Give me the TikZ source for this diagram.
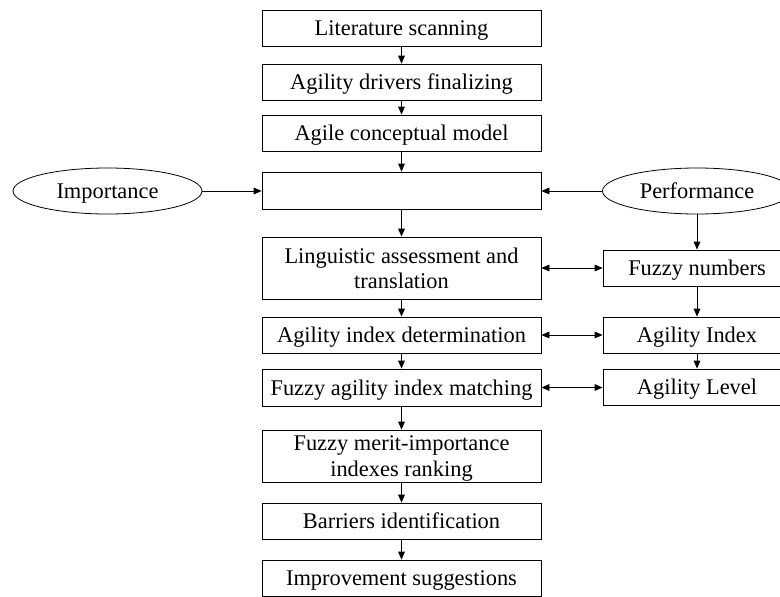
\documentclass[tikz,border=0pt]{standalone}
\usepackage{fontspec}
\setmainfont{Liberation Serif}
\usetikzlibrary{arrows.meta,shapes.geometric}
\begin{document}
\begin{tikzpicture}[x=0.75pt,y=-0.75pt,
  every node/.style={font=\fontsize{16.8}{19}\selectfont,text depth=0pt},
  mainbox/.style={draw,line width=0.6pt,rectangle,inner sep=0pt,align=center,
    minimum width=279*0.75pt},
  sidebox/.style={draw,line width=0.6pt,rectangle,inner sep=0pt,align=center,
    minimum width=188*0.75pt,minimum height=36*0.75pt},
  oval/.style={draw,line width=0.6pt,ellipse,inner sep=0pt,
    minimum width=189*0.75pt,minimum height=46*0.75pt},
  flow/.style={line width=0.6pt,-{Triangle[length=6pt,width=5pt]}},
  both/.style={line width=0.6pt,{Triangle[length=6pt,width=5pt]}-{Triangle[length=6pt,width=5pt]}}]
\useasboundingbox (0,0) rectangle (780,596);
\clip (0,0) rectangle (780,596);

% main column
\node[mainbox,minimum height=36*0.75pt] (lit) at (401.5,28) {Literature scanning};
\node[mainbox,minimum height=36*0.75pt] (drv) at (401.5,82) {Agility drivers finalizing};
\node[mainbox,minimum height=36*0.75pt] (acm) at (401.5,133) {Agile conceptual model};
\node[mainbox,minimum height=37*0.75pt] (blank) at (401.5,190.5) {};
\node[mainbox,minimum height=62*0.75pt] (ling) at (401.5,268) {Linguistic assessment and\\translation};
\node[mainbox,minimum height=36*0.75pt] (aid) at (401.5,335) {Agility index determination};
\node[mainbox,minimum height=37*0.75pt] (fam) at (401.5,387.5) {Fuzzy agility index matching};
\node[mainbox,minimum height=52*0.75pt] (fmi) at (401.5,456) {Fuzzy merit-importance\\indexes ranking};
\node[mainbox,minimum height=36*0.75pt] (bar) at (401.5,521) {Barriers identification};
\node[mainbox,minimum height=36*0.75pt] (imp) at (401.5,578) {Improvement suggestions};

% side inputs
\node[oval] (importance) at (107.5,191) {Importance};
\node[oval] (perf) at (697,191) {Performance};

% right column
\node[sidebox] (fn) at (697,268) {Fuzzy numbers};
\node[sidebox] (ai) at (697,335) {Agility Index};
\node[sidebox] (al) at (697,387) {Agility Level};

% connectors
\draw[flow] (lit) -- (drv);
\draw[flow] (drv) -- (acm);
\draw[flow] (acm) -- (blank);
\draw[flow] (blank) -- (ling);
\draw[flow] (ling) -- (aid);
\draw[flow] (aid) -- (fam);
\draw[flow] (fam) -- (fmi);
\draw[flow] (fmi) -- (bar);
\draw[flow] (bar) -- (imp);

\draw[flow] (importance.east) -- (importance.east -| blank.west);
\draw[flow] (perf.west) -- (perf.west -| blank.east);
\draw[flow] (perf) -- (fn);
\draw[flow] (fn) -- (ai);
\draw[flow] (ai) -- (al);

\draw[both] (ling.east) -- (ling.east -| fn.west);
\draw[both] (aid.east) -- (aid.east -| ai.west);
\draw[both] (fam.east) -- (fam.east -| al.west);
\end{tikzpicture}
\end{document}
